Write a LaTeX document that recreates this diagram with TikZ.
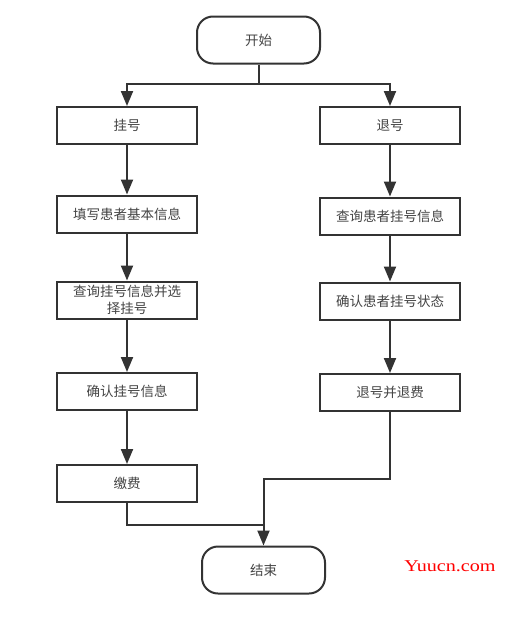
\documentclass[tikz,border=0pt]{standalone}
\usepackage{fontspec}
\newfontfamily\cjk{Noto Sans CJK SC}
\newfontfamily\wmfont[FakeStretch=1.22]{Liberation Serif}
\usetikzlibrary{arrows.meta}
\definecolor{ln}{HTML}{333333}
\definecolor{tx}{HTML}{444444}
\begin{document}
\begin{tikzpicture}[x=1pt,y=-1pt,
  box/.style={draw=ln,line width=2pt,fill=white,minimum width=140pt,minimum height=37pt,inner sep=0pt,align=center,font=\cjk\fontsize{13.5}{17}\selectfont,text=tx},
  term/.style={box,rounded corners=16pt,minimum width=123pt,minimum height=47pt},
  conn/.style={draw=ln,line width=2pt,-{Triangle[length=15pt,width=12pt]}},
  plain/.style={draw=ln,line width=2pt}]
\useasboundingbox (0,0) rectangle (513,621);
\node[term] (start) at (258.5,40) {开始};
\node[box] (gh) at (127,125.5) {挂号};
\node[box] (th) at (390,125.5) {退号};
\node[box] (l1) at (127,214) {填写患者基本信息};
\node[box] (l2) at (127,300) {查询挂号信息并选\\择挂号};
\node[box] (l3) at (127,391.5) {确认挂号信息};
\node[box] (l4) at (127,483.5) {缴费};
\node[box] (r1) at (390,216) {查询患者挂号信息};
\node[box] (r2) at (390,301) {确认患者挂号状态};
\node[box] (r3) at (390,392.5) {退号并退费};
\node[term] (end) at (263.5,570) {结束};
\coordinate (split) at (258.5,84);
\coordinate (mergeL) at (263.5,525);
\coordinate (mergeR) at (263.5,479);
\draw[plain] (start.south) -- (split);
\draw[conn] (split) -| (gh.north);
\draw[conn] (split) -| (th.north);
\draw[conn] (gh) -- (l1);
\draw[conn] (l1) -- (l2);
\draw[conn] (l2) -- (l3);
\draw[conn] (l3) -- (l4);
\draw[conn] (th) -- (r1);
\draw[conn] (r1) -- (r2);
\draw[conn] (r2) -- (r3);
\draw[plain] (l4.south) |- (mergeL);
\draw[conn] (r3.south) |- (mergeR) -- (end.north);
\node[text=red,font=\wmfont\fontsize{16.5}{20}\selectfont,anchor=center] (wm) at (450,566) {Yuucn.com};
\end{tikzpicture}
\end{document}
